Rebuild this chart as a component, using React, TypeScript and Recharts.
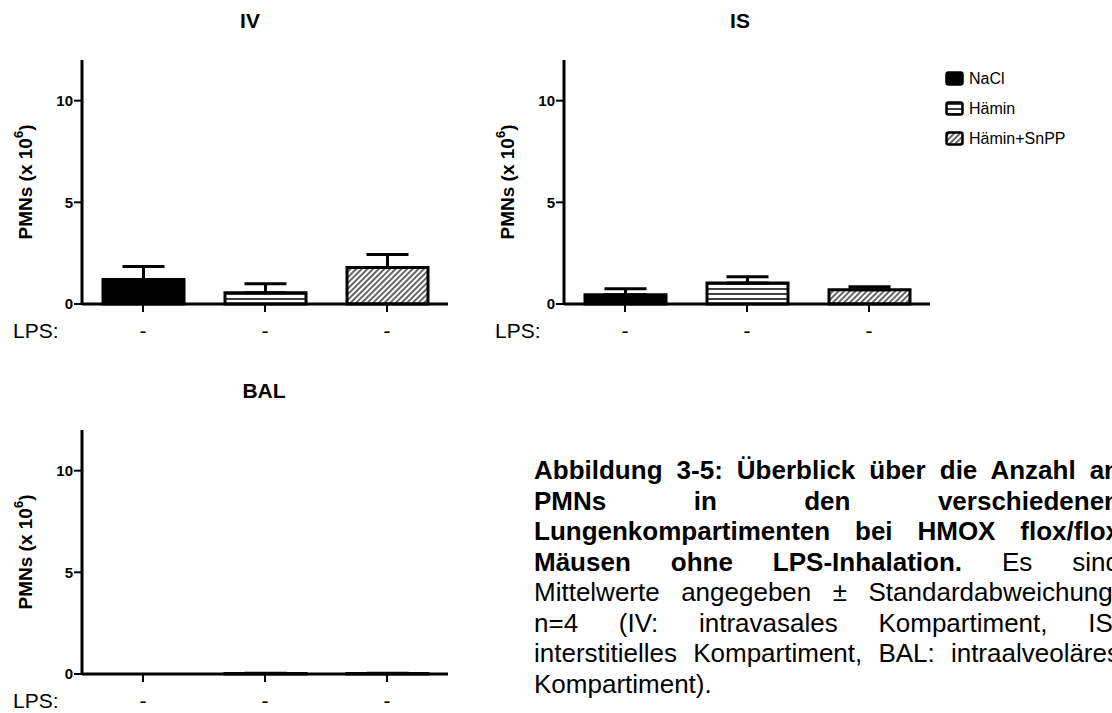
import React from "react";
import { Bar, BarChart, Cell, ErrorBar, XAxis, YAxis } from "recharts";

const FONT = '"Liberation Sans", Arial, Helvetica, sans-serif';

// Gruppen und LPS-Zeile
const gruppen = ["NaCl", "Hämin", "Hämin+SnPP"];
const lpsZeile = ["-", "-", "-"];
const yTicks = [0, 5, 10];

// PMNs (x 10^6), Mittelwert und Standardabweichung
const ivMittel = [1.2, 0.55, 1.8];
const ivSd = [0.65, 0.45, 0.63];
const isMittel = [0.45, 1.03, 0.7];
const isSd = [0.3, 0.31, 0.15];
const balMittel = [0, 0.03, 0.03];
const balSd = [0, 0.01, 0.01];

const fuellungen = ["#000", "url(#streifen)", "url(#schraeg)"];

function LpsTick(props: any) {
  const { x, y, index } = props;
  return (
    <g>
      {index === 0 && (
        <text x={13} y={y + 24} fontSize={21} fill="#000">
          LPS:
        </text>
      )}
      <text x={x} y={y + 24} fontSize={21} textAnchor="middle" fill="#000">
        {lpsZeile[index]}
      </text>
    </g>
  );
}

function AchsenTitel(props: any) {
  const vb = props.viewBox || { x: 0, y: 60, width: 82, height: 244 };
  const cx = vb.x + 25;
  const cy = vb.y + vb.height / 2;
  return (
    <text
      x={cx}
      y={cy}
      transform={`rotate(-90, ${cx}, ${cy})`}
      textAnchor="middle"
      dominantBaseline="central"
      fontSize={19}
      fontWeight="bold"
      fill="#000"
    >
      PMNs (x 10
      <tspan dy={-7} fontSize={13}>
        6
      </tspan>
      <tspan dy={7}>)</tspan>
    </text>
  );
}

function Panel({
  titel,
  mittel,
  sd,
  left,
  top,
  titelX,
}: {
  titel: string;
  mittel: number[];
  sd: number[];
  left: number;
  top: number;
  titelX: number;
}) {
  const data = gruppen.map((g, i) => ({
    gruppe: g,
    wert: mittel[i],
    fehler: [0, sd[i]],
  }));
  return (
    <>
      <div
        style={{
          position: "absolute",
          left: titelX,
          top: top + 9,
          transform: "translateX(-50%)",
          fontSize: 21,
          fontWeight: "bold",
        }}
      >
        {titel}
      </div>
      <div style={{ position: "absolute", left, top }}>
        <BarChart
          width={460}
          height={345}
          data={data}
          margin={{ top: 60, right: 12, left: 0, bottom: 0 }}
          barSize={81}
        >
          <XAxis
            dataKey="gruppe"
            height={41}
            interval={0}
            tickSize={8}
            tickMargin={2}
            axisLine={{ stroke: "#000", strokeWidth: 3 }}
            tickLine={{ stroke: "#000", strokeWidth: 2 }}
            tick={<LpsTick />}
          />
          <YAxis
            width={82}
            domain={[0, 12]}
            ticks={yTicks}
            tickSize={8}
            tickMargin={1}
            axisLine={{ stroke: "#000", strokeWidth: 3 }}
            tickLine={{ stroke: "#000", strokeWidth: 2 }}
            tick={{ fontSize: 15, fontWeight: "bold", fill: "#000" }}
            label={<AchsenTitel />}
          />
          <Bar
            dataKey="wert"
            stroke="#000"
            strokeWidth={3}
            isAnimationActive={false}
          >
            {data.map((d, i) => (
              <Cell key={d.gruppe} fill={fuellungen[i]} />
            ))}
            <ErrorBar
              dataKey="fehler"
              direction="y"
              width={21}
              stroke="#000"
              strokeWidth={3}
            />
          </Bar>
        </BarChart>
      </div>
    </>
  );
}

const legendeTexte = gruppen;

const beschriftung: { fett: string; normal: string }[] = [
  { fett: "Abbildung 3-5: Überblick über die Anzahl an", normal: "" },
  { fett: "PMNs in den verschiedenen", normal: "" },
  { fett: "Lungenkompartimenten bei HMOX flox/flox", normal: "" },
  { fett: "Mäusen ohne LPS-Inhalation.", normal: " Es sind" },
  { fett: "", normal: "Mittelwerte angegeben ± Standardabweichung," },
  { fett: "", normal: "n=4 (IV: intravasales Kompartiment, IS:" },
  { fett: "", normal: "interstitielles Kompartiment, BAL: intraalveoläres" },
  { fett: "", normal: "Kompartiment)." },
];

export default function App() {
  return (
    <div
      style={{
        position: "absolute",
        left: 0,
        top: 0,
        width: 1112,
        height: 713,
        overflow: "hidden",
        background: "#fff",
        fontFamily: FONT,
        color: "#000",
      }}
    >
      <svg width={0} height={0} style={{ position: "absolute" }}>
        <defs>
          <pattern
            id="streifen"
            patternUnits="userSpaceOnUse"
            width={10}
            height={5}
          >
            <rect width={10} height={5} fill="#fff" />
            <line x1={0} y1={4} x2={10} y2={4} stroke="#000" strokeWidth={1.5} />
          </pattern>
          <pattern
            id="schraeg"
            patternUnits="userSpaceOnUse"
            width={4}
            height={4}
            patternTransform="rotate(45)"
          >
            <rect width={4} height={4} fill="#fff" />
            <line x1={2} y1={0} x2={2} y2={4} stroke="#000" strokeWidth={1.2} />
          </pattern>
        </defs>
      </svg>

      <Panel titel="IV" mittel={ivMittel} sd={ivSd} left={0} top={0} titelX={250} />
      <Panel titel="IS" mittel={isMittel} sd={isSd} left={482} top={0} titelX={740} />
      <Panel titel="BAL" mittel={balMittel} sd={balSd} left={0} top={370} titelX={264} />

      <svg
        width={172}
        height={100}
        style={{ position: "absolute", left: 940, top: 60 }}
      >
        {legendeTexte.map((t, i) => (
          <g key={t}>
            <rect
              x={6.5}
              y={12.5 + i * 30}
              width={16}
              height={12}
              rx={2}
              fill={fuellungen[i]}
              stroke="#000"
              strokeWidth={2.5}
            />
            <text x={29} y={24 + i * 30} fontSize={16} fill="#000">
              {t}
            </text>
          </g>
        ))}
      </svg>

      <div
        style={{
          position: "absolute",
          left: 534,
          top: 455,
          width: 586,
          fontSize: 26,
          lineHeight: "30.5px",
        }}
      >
        {beschriftung.map((z, i) => (
          <div
            key={i}
            style={{
              textAlign: "justify",
              textAlignLast: i === beschriftung.length - 1 ? "left" : "justify",
            }}
          >
            {z.fett && <b>{z.fett}</b>}
            {z.normal}
          </div>
        ))}
      </div>
    </div>
  );
}
